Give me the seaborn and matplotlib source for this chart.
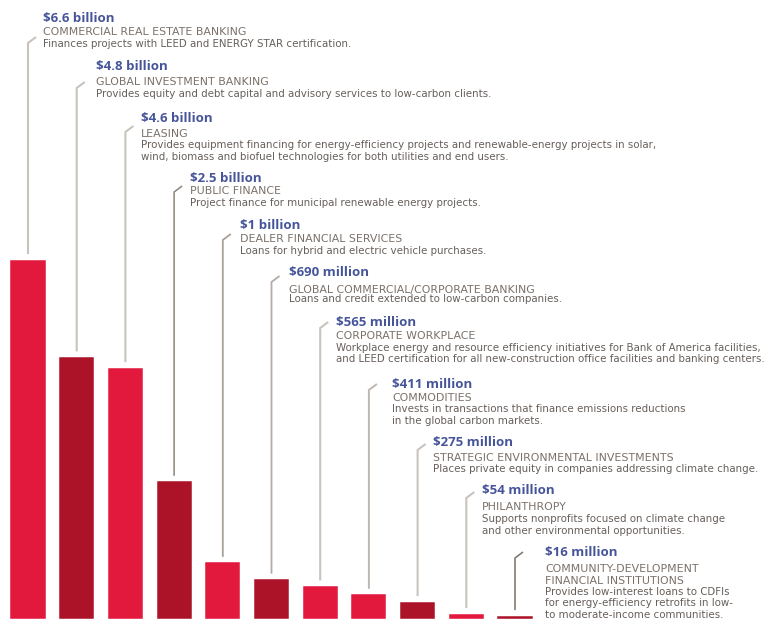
import matplotlib
matplotlib.use("Agg")
import matplotlib.pyplot as plt
import pandas as pd
import seaborn as sns

# ---- data -------------------------------------------------------------
categories = [
    "COMMERCIAL REAL ESTATE BANKING",
    "GLOBAL INVESTMENT BANKING",
    "LEASING",
    "PUBLIC FINANCE",
    "DEALER FINANCIAL SERVICES",
    "GLOBAL COMMERCIAL/CORPORATE BANKING",
    "CORPORATE WORKPLACE",
    "COMMODITIES",
    "STRATEGIC ENVIRONMENTAL INVESTMENTS",
    "PHILANTHROPY",
    "COMMUNITY-DEVELOPMENT\nFINANCIAL INSTITUTIONS",
]
values_bn = [6.6, 4.8, 4.6, 2.5, 1.0, 0.69, 0.565, 0.411, 0.275, 0.054, 0.016]
value_labels = [
    "$6.6 billion", "$4.8 billion", "$4.6 billion", "$2.5 billion",
    "$1 billion", "$690 million", "$565 million", "$411 million",
    "$275 million", "$54 million", "$16 million",
]
descriptions = [
    "Finances projects with LEED and ENERGY STAR certification.",
    "Provides equity and debt capital and advisory services to low-carbon clients.",
    "Provides equipment financing for energy-efficiency projects and renewable-energy projects in solar,\n"
    "wind, biomass and biofuel technologies for both utilities and end users.",
    "Project finance for municipal renewable energy projects.",
    "Loans for hybrid and electric vehicle purchases.",
    "Loans and credit extended to low-carbon companies.",
    "Workplace energy and resource efficiency initiatives for Bank of America facilities,\n"
    "and LEED certification for all new-construction office facilities and banking centers.",
    "Invests in transactions that finance emissions reductions\nin the global carbon markets.",
    "Places private equity in companies addressing climate change.",
    "Supports nonprofits focused on climate change\nand other environmental opportunities.",
    "Provides low-interest loans to CDFIs\nfor energy-efficiency retrofits in low-\nto moderate-income communities.",
]

# ---- styling ----------------------------------------------------------
bar_tone = ["bright", "dark", "bright", "dark", "bright", "dark",
            "bright", "bright", "dark", "bright", "dark"]
tone_colors = {"bright": "#E2183C", "dark": "#AC1328"}
line_colors = ["#C9C3BE", "#C9C3BE", "#C9C3BE", "#8E8379", "#A9A099", "#B3ABA4",
               "#C9C3BE", "#BEB7B1", "#C9C3BE", "#C9C3BE", "#7D7068"]
line_widths = [1.5, 1.5, 1.5, 1.1, 1.3, 1.3, 1.5, 1.4, 1.5, 1.5, 1.1]
VALUE_COLOR = "#46559A"
CAT_COLOR = "#7B716A"
DESC_COLOR = "#675F5A"
TEXT_FONT = ["DejaVu Sans"]

# label layout in pixels: left x, value y, category y, first description y,
# and the top of each leader line
label_x = [43, 96, 141, 190, 240, 289, 336, 392, 433, 482, 545]
label_value_y = [18, 67, 118, 179, 226, 273, 322, 384, 443, 491, 553]
label_cat_y = [32, 82, 134, 191, 239, 290, 336, 398, 458, 507, 569]
label_desc_y = [44, 94, 145, 203, 251, 299, 348, 409, 469, 519, 592]
leader_top_y = [43, 88, 132, 192, 240, 282, 328, 390, 450, 498, 558]
LINE_STEP = 11.5

W, H = 771, 644
sns.set_theme(style="white")
plt.rcParams["font.family"] = ["Open Sans", "DejaVu Sans"]

fig = plt.figure(figsize=(W / 100, H / 100), dpi=100)
ax = fig.add_axes([0, 0, 1, 1])

df = pd.DataFrame({"category": categories, "value": values_bn, "tone": bar_tone})
sns.barplot(data=df, x="category", y="value", hue="tone", palette=tone_colors,
            dodge=False, width=0.68, legend=False, ax=ax, saturation=1)
for bar in ax.patches:
    bar.set_edgecolor(bar.get_facecolor())
    bar.set_linewidth(1.1)

# bar i centred at 28 + 48.7*i px; zero baseline at 617.5 px
PX_PER_CAT = 48.7
BASE_PX = 617.5
PX_PER_BN = 357 / 6.6
ax.set_xlim(-28 / PX_PER_CAT, (W - 28) / PX_PER_CAT)
ax.set_ylim(-(H - BASE_PX) / PX_PER_BN, BASE_PX / PX_PER_BN)
ax.set_axis_off()


def px_y(py):
    return (BASE_PX - py) / PX_PER_BN


gap = 6.5 / PX_PER_BN
for i, v in enumerate(values_bn):
    top = px_y(leader_top_y[i])
    ax.plot([i, i, i + 8 / PX_PER_CAT], [v + gap, top, top + 6 / PX_PER_BN],
            color=line_colors[i], lw=line_widths[i],
            solid_capstyle="butt", solid_joinstyle="miter")

    fx = label_x[i] / W
    fig.text(fx, 1 - label_value_y[i] / H, value_labels[i], color=VALUE_COLOR,
             fontsize=9.5, fontweight="bold", va="center", ha="left")
    for k, line in enumerate(categories[i].split("\n")):
        fig.text(fx, 1 - (label_cat_y[i] + k * 12) / H, line, color=CAT_COLOR,
                 fontsize=7.9, family=TEXT_FONT, va="center", ha="left")
    for k, line in enumerate(descriptions[i].split("\n")):
        fig.text(fx, 1 - (label_desc_y[i] + k * LINE_STEP) / H, line,
                 color=DESC_COLOR, fontsize=7.35, family=TEXT_FONT,
                 va="center", ha="left")

fig.savefig("out.png", dpi=100)
